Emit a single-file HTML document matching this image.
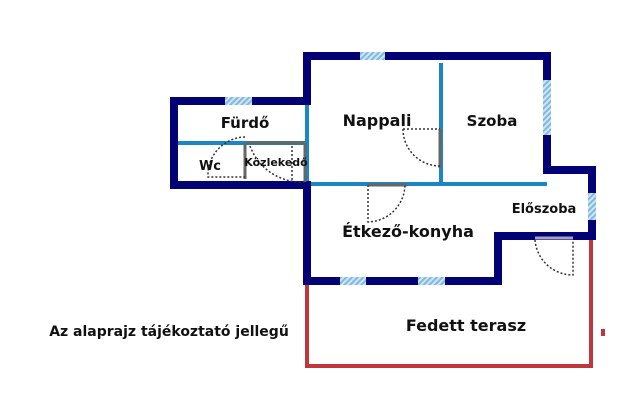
<!DOCTYPE html>
<html><head><meta charset="utf-8"><style>html,body{margin:0;padding:0;background:#fff}svg{display:block}</style></head><body>
<svg width="640" height="405" viewBox="0 0 640 405" xmlns="http://www.w3.org/2000/svg" font-family="'DejaVu Sans','Liberation Sans',sans-serif" font-weight="bold">
<defs><pattern id="h" width="4" height="4" patternUnits="userSpaceOnUse" patternTransform="rotate(45)"><rect width="4" height="4" fill="#cfe6f5"/><rect width="2" height="4" fill="#7fb8e0"/></pattern></defs>
<g stroke="#c0363c" stroke-width="4" fill="none">
<polyline points="307,285 307,366 591,366 591,240"/>
</g>
<rect x="601" y="329" width="4" height="7" fill="#c0363c"/>
<g stroke="#1a86c4" stroke-width="4" fill="none">
<line x1="309" y1="184" x2="547" y2="184"/>
<line x1="441" y1="63" x2="441" y2="184"/>
<line x1="307" y1="105" x2="307" y2="182"/>
<line x1="178" y1="143" x2="307" y2="143"/>
</g>
<g fill="#020275">
<rect x="303" y="52" width="248" height="8"/>
<rect x="303" y="52" width="8" height="53"/>
<rect x="170" y="97" width="141" height="8"/>
<rect x="170" y="97" width="8" height="92"/>
<rect x="170" y="181" width="141" height="8"/>
<rect x="303" y="181" width="8" height="104"/>
<rect x="303" y="277" width="199" height="8"/>
<rect x="494" y="232" width="8" height="53"/>
<rect x="494" y="232" width="102" height="8"/>
<rect x="588" y="166" width="8" height="74"/>
<rect x="543" y="166" width="53" height="8"/>
<rect x="543" y="52" width="8" height="122"/>
</g>
<g fill="url(#h)">
<rect x="360" y="52" width="25" height="8"/>
<rect x="225" y="97" width="27" height="8"/>
<rect x="340" y="277" width="26" height="8"/>
<rect x="418" y="277" width="27" height="8"/>
<rect x="588" y="193" width="8" height="27"/>
<rect x="543" y="80" width="8" height="55"/>
</g>
<g stroke="#666" stroke-width="3" fill="none">
<line x1="245" y1="143" x2="245" y2="179"/>
<line x1="247" y1="143" x2="304" y2="143"/>
<line x1="305" y1="143" x2="305" y2="182"/>
<line x1="440" y1="129" x2="440" y2="168"/>
<line x1="368" y1="185" x2="407" y2="185"/>
<line x1="535" y1="238" x2="573" y2="238" stroke="#a8a0c0"/>
</g>
<g stroke="#333" stroke-width="1.5" stroke-dasharray="2,2" fill="none">
<path d="M245,137 A38,38 0 0 0 208,177 L245,177"/>
<path d="M250,146 A55,55 0 0 0 305,182"/>
<line x1="292" y1="146" x2="292" y2="181"/>
<path d="M403,129 L440,129 M403,129 A37,37 0 0 0 440,166"/>
<path d="M368,185 L368,222 A38,38 0 0 0 405,185"/>
<path d="M535,240 A38,38 0 0 0 573,275 L573,240"/>
</g>
<g fill="#111" text-anchor="middle">
<text x="245" y="128" font-size="15">Fürdő</text>
<text x="377" y="126" font-size="16">Nappali</text>
<text x="492" y="126" font-size="15">Szoba</text>
<text x="210" y="170" font-size="13">Wc</text>
<text x="276" y="166" font-size="11">Közlekedő</text>
<text x="408" y="237" font-size="16">Étkező-konyha</text>
<text x="544" y="213" font-size="13">Előszoba</text>
<text x="466" y="331" font-size="16">Fedett terasz</text>
<text x="169" y="336" font-size="14">Az alaprajz tájékoztató jellegű</text>
</g>
</svg>
</body></html>
